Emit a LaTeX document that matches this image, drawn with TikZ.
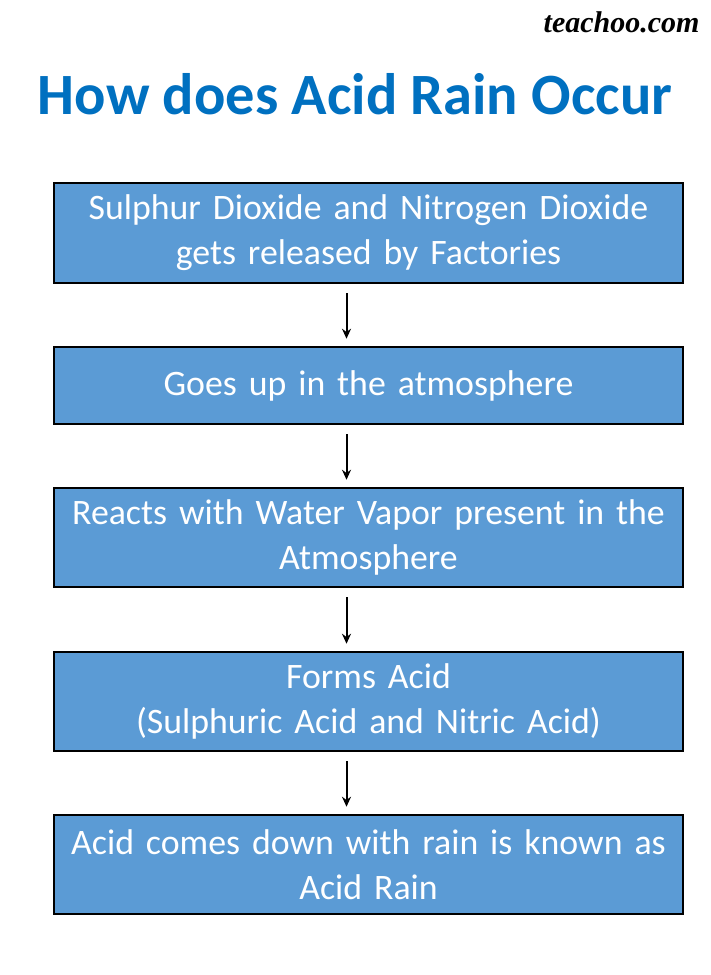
\documentclass[tikz,border=0pt]{standalone}
\usepackage{fontspec}
\setmainfont{Carlito}
\newfontfamily\logofont{Liberation Serif}
\usetikzlibrary{arrows.meta}
\definecolor{titleblue}{HTML}{0070C0}
\definecolor{boxblue}{HTML}{5B9BD5}
\tikzset{
  stepbox/.style={draw=black, line width=2.5pt, fill=boxblue, minimum width=629pt, text width=625pt, align=center, text=white, font=\fontsize{35.8}{45}\selectfont, inner sep=0pt},
  flowarrow/.style={-{Stealth[length=10pt,width=9pt]}, line width=2pt, black}
}
\begin{document}
\begin{tikzpicture}[x=1pt,y=-1pt]
\useasboundingbox (0,0) rectangle (711,975);
\fill[white] (0,0) rectangle (711,975);
\node[anchor=east, font=\logofont\bfseries\itshape\fontsize{30}{34}\selectfont] (logo) at (703,22) {teachoo.com};
\node[font=\bfseries\fontsize{58.5}{64}\selectfont, text=titleblue] (title) at (355,94) {How does Acid Rain Occur};
\node[stepbox, minimum height=100pt] (b1) at (368.5,233) {Sulphur Dioxide and Nitrogen Dioxide\\gets released by Factories};
\node[stepbox, minimum height=77pt] (b2) at (368.5,385.5) {Goes up in the atmosphere};
\node[stepbox, minimum height=99pt] (b3) at (368.5,537.5) {Reacts with Water Vapor present in the\\Atmosphere};
\node[stepbox, minimum height=99pt] (b4) at (368.5,701.5) {Forms Acid\\(Sulphuric Acid and Nitric Acid)};
\node[stepbox, minimum height=99pt] (b5) at (368.5,864.5) {Acid comes down with rain is known as\\Acid Rain};
\draw[flowarrow] ([xshift=-22pt,yshift=-9pt]b1.south) -- ([xshift=-22pt,yshift=7pt]b2.north);
\draw[flowarrow] ([xshift=-22pt,yshift=-9pt]b2.south) -- ([xshift=-22pt,yshift=7pt]b3.north);
\draw[flowarrow] ([xshift=-22pt,yshift=-9pt]b3.south) -- ([xshift=-22pt,yshift=7pt]b4.north);
\draw[flowarrow] ([xshift=-22pt,yshift=-9pt]b4.south) -- ([xshift=-22pt,yshift=7pt]b5.north);
\end{tikzpicture}
\end{document}
